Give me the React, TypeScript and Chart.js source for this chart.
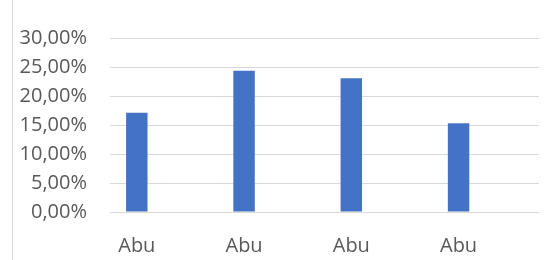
import React, { useEffect, useRef } from "react";
import { Chart, registerables } from "chart.js";

Chart.register(...registerables);

const categories = ["Abu", "Abu", "Abu", "Abu"];
const values = [17.1, 24.35, 23.05, 15.3];
const yTicks = [0, 5, 10, 15, 20, 25, 30];

const fmt = (v: number) => v.toFixed(2).replace(".", ",") + "%";

export default function App() {
  const ref = useRef<HTMLCanvasElement>(null);
  useEffect(() => {
    if (!ref.current) return;
    const borderPlugin = {
      id: "leftBorder",
      beforeDraw(chart: any) {
        const ctx = chart.ctx;
        ctx.save();
        ctx.strokeStyle = "#d9d9d9";
        ctx.lineWidth = 1;
        ctx.beginPath();
        ctx.moveTo(12.5, 0);
        ctx.lineTo(12.5, chart.height);
        ctx.stroke();
        ctx.restore();
      },
    };
    const chart = new Chart(ref.current, {
      type: "bar",
      data: {
        datasets: [
          {
            data: values.map((v, i) => ({ x: i, y: v })),
            backgroundColor: "#4472c4",
            borderWidth: 0,
            categoryPercentage: 0.2,
            barPercentage: 1,
          },
        ],
      },
      options: {
        animation: false,
        responsive: false,
        maintainAspectRatio: false,
        layout: { padding: { top: 38, right: 5, left: 0, bottom: 0 } },
        plugins: { legend: { display: false }, tooltip: { enabled: false } },
        scales: {
          x: {
            type: "linear",
            offset: false,
            min: -0.25,
            max: 3.75,
            grid: { display: false },
            border: { display: false },
            afterBuildTicks: (scale: any) => {
              scale.ticks = categories.map((_, i) => ({ value: i }));
            },
            afterFit: (scale: any) => {
              scale.height = 48;
            },
            ticks: {
              autoSkip: false,
              maxRotation: 0,
              padding: 14,
              color: "#595959",
              font: { family: "Open Sans", size: 20 },
              callback: (v: any) => categories[Math.round(Number(v))] ?? "",
            },
          },
          y: {
            min: 0,
            max: 30,
            afterBuildTicks: (scale: any) => {
              scale.ticks = yTicks.map((v) => ({ value: v }));
            },
            afterFit: (scale: any) => {
              scale.width = 110;
            },
            grid: { color: "#d9d9d9", drawTicks: false, lineWidth: 1 },
            border: { display: false },
            ticks: {
              padding: 23,
              color: "#595959",
              font: { family: "Open Sans", size: 20 },
              callback: (v: any) => fmt(Number(v)),
            },
          },
        },
      },
      plugins: [borderPlugin],
    } as any);
    return () => chart.destroy();
  }, []);
  return (
    <div style={{ position: "absolute", left: 0, top: 0, width: 544, height: 260 }}>
      <canvas ref={ref} width={544} height={260} style={{ width: 544, height: 260 }} />
    </div>
  );
}
